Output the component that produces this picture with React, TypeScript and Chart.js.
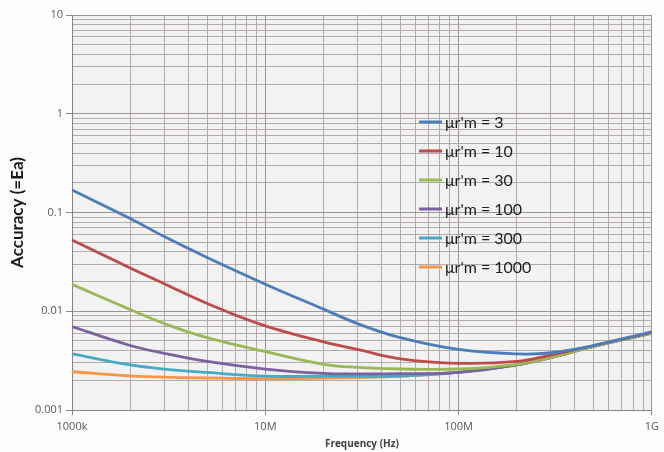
import React, { useEffect, useRef } from "react";
import { Chart, registerables } from "chart.js";

Chart.register(...registerables);

// ---- data ----
const frequencies = [1e6, 2e6, 3e6, 5e6, 1e7, 2e7, 3e7, 5e7, 1e8, 2e8, 3e8, 5e8, 1e9];
const seriesLabels = ["μr'm = 3", "μr'm = 10", "μr'm = 30", "μr'm = 100", "μr'm = 300", "μr'm = 1000"];
const mu3 = [0.169, 0.087, 0.057, 0.035, 0.0188, 0.0105, 0.0075, 0.0054, 0.0041, 0.0037, 0.0038, 0.0045, 0.0062];
const mu10 = [0.0527, 0.0274, 0.019, 0.012, 0.0071, 0.0049, 0.0041, 0.0033, 0.00297, 0.0031, 0.0036, 0.0045, 0.0061];
const mu30 = [0.0187, 0.0104, 0.0075, 0.0054, 0.0039, 0.0029, 0.0027, 0.0026, 0.0026, 0.0029, 0.0034, 0.0044, 0.006];
const mu100 = [0.007, 0.0045, 0.00375, 0.0031, 0.0026, 0.00235, 0.00232, 0.00233, 0.0024, 0.00287, 0.0034, 0.0044, 0.006];
const mu300 = [0.0037, 0.00286, 0.0026, 0.0024, 0.0022, 0.0022, 0.0022, 0.0022, 0.0024, 0.00286, 0.0034, 0.0044, 0.006];
const mu1000 = [0.00244, 0.00222, 0.00215, 0.00211, 0.00208, 0.0021, 0.00213, 0.0022, 0.00242, 0.00286, 0.0034, 0.0044, 0.006];
const seriesValues = [mu3, mu10, mu30, mu100, mu300, mu1000];
const seriesColors = ["#4a7ebb", "#be4b48", "#98b954", "#7d60a0", "#46aac5", "#f79646"];

const xTickValues = [1e6, 1e7, 1e8, 1e9];
const xTickLabels = ["1000k", "10M", "100M", "1G"];
const yTickValues = [0.001, 0.01, 0.1, 1, 10];
const yTickLabels = ["0.001", "0.01", "0.1", "1", "10"];

function logTicks(majors: number[]) {
  const out: { value: number }[] = [];
  for (let i = 0; i < majors.length; i++) {
    out.push({ value: majors[i] });
    if (i < majors.length - 1) {
      for (let m = 2; m <= 9; m++) out.push({ value: majors[i] * m });
    }
  }
  return out;
}

function isMajor(v: number, majors: number[]) {
  return majors.some((m) => Math.abs(v - m) / m < 1e-9);
}

function labelFor(v: number, majors: number[], labels: string[]) {
  const i = majors.findIndex((m) => Math.abs(v - m) / m < 1e-9);
  return i >= 0 ? labels[i] : "";
}

const plotBg = {
  id: "plotBg",
  beforeDraw(chart: any) {
    const { ctx, chartArea } = chart;
    ctx.save();
    ctx.fillStyle = "#fdfdfd";
    ctx.fillRect(0, 0, chart.width, chart.height);
    ctx.fillStyle = "#f2f2f2";
    ctx.fillRect(chartArea.left, chartArea.top, chartArea.right - chartArea.left, chartArea.bottom - chartArea.top);
    ctx.restore();
  },
};

const insideLegend = {
  id: "insideLegend",
  afterDatasetsDraw(chart: any) {
    const { ctx } = chart;
    const x0 = 419;
    const y0 = 122;
    const step = 29;
    ctx.save();
    ctx.font = "16px Lato, 'Open Sans', sans-serif";
    ctx.textBaseline = "middle";
    chart.data.datasets.forEach((ds: any, i: number) => {
      const y = y0 + i * step;
      ctx.strokeStyle = ds.borderColor;
      ctx.lineWidth = 3;
      ctx.beginPath();
      ctx.moveTo(x0, y);
      ctx.lineTo(x0 + 23, y);
      ctx.stroke();
      ctx.fillStyle = "#1e1e1e";
      ctx.fillText(ds.label, x0 + 26, y + 1);
    });
    ctx.restore();
  },
};

export default function App() {
  const ref = useRef<HTMLCanvasElement | null>(null);

  useEffect(() => {
    document.body.style.margin = "0";
    document.body.style.overflow = "hidden";
    const canvas = ref.current;
    if (!canvas) return;
    const chart = new Chart(canvas, {
      type: "line",
      data: {
        datasets: seriesValues.map((vals, i) => ({
          label: seriesLabels[i],
          data: frequencies.map((f, j) => ({ x: f, y: vals[j] })),
          borderColor: seriesColors[i],
          backgroundColor: seriesColors[i],
          borderWidth: 2.8,
          pointRadius: 0,
          tension: 0.4,
          fill: false,
        })),
      },
      options: {
        responsive: false,
        animation: false,
        devicePixelRatio: 1,
        layout: { padding: { top: 15, right: 11, left: 0, bottom: 0 } },
        plugins: {
          legend: { display: false },
          tooltip: { enabled: false },
        },
        scales: {
          x: {
            type: "logarithmic",
            min: 1e6,
            max: 1e9,
            afterBuildTicks: (s: any) => {
              s.ticks = logTicks(xTickValues);
            },
            afterFit: (s: any) => {
              s.height = 42;
            },
            ticks: {
              autoSkip: false,
              maxRotation: 0,
              padding: 5,
              color: "#595959",
              font: { family: "'Open Sans', sans-serif", size: 11 },
              callback: (v: any) => labelFor(Number(v), xTickValues, xTickLabels),
            },
            grid: {
              color: (c: any) => (c.tick && isMajor(c.tick.value, xTickValues) ? "#9c9494" : "#b3abab"),
              lineWidth: 1,
              tickLength: 5,
              tickColor: (c: any) => (c.tick && isMajor(c.tick.value, xTickValues) ? "#8c8484" : "rgba(0,0,0,0)"),
            },
            border: { color: "#8c8484", width: 1 },
            title: {
              display: true,
              text: "Frequency (Hz)",
              color: "#404040",
              font: { family: "'Open Sans', sans-serif", size: 10, weight: "bold" },
              padding: { top: 0, bottom: 2 },
            },
          },
          y: {
            type: "logarithmic",
            min: 0.001,
            max: 10,
            afterBuildTicks: (s: any) => {
              s.ticks = logTicks(yTickValues);
            },
            afterFit: (s: any) => {
              s.width = 72;
            },
            ticks: {
              autoSkip: false,
              padding: 3,
              color: "#595959",
              font: { family: "'Open Sans', sans-serif", size: 11 },
              callback: (v: any) => labelFor(Number(v), yTickValues, yTickLabels),
            },
            grid: {
              color: (c: any) => (c.tick && isMajor(c.tick.value, yTickValues) ? "#9c9494" : "#b3abab"),
              lineWidth: 1,
              tickLength: 6,
              tickColor: (c: any) => (c.tick && isMajor(c.tick.value, yTickValues) ? "#8c8484" : "rgba(0,0,0,0)"),
            },
            border: { color: "#8c8484", width: 1 },
            title: {
              display: true,
              text: "Accuracy (=Ea)",
              color: "#1a1a1a",
              font: { family: "Lato, 'Open Sans', sans-serif", size: 17, weight: "bold" },
              padding: { top: 7, bottom: 0 },
            },
          },
        },
      },
      plugins: [plotBg, insideLegend],
    } as any);
    return () => chart.destroy();
  }, []);

  return (
    <div style={{ width: 664, height: 452 }}>
      <canvas ref={ref} width={664} height={452} style={{ width: 664, height: 452, display: "block" }} />
    </div>
  );
}
